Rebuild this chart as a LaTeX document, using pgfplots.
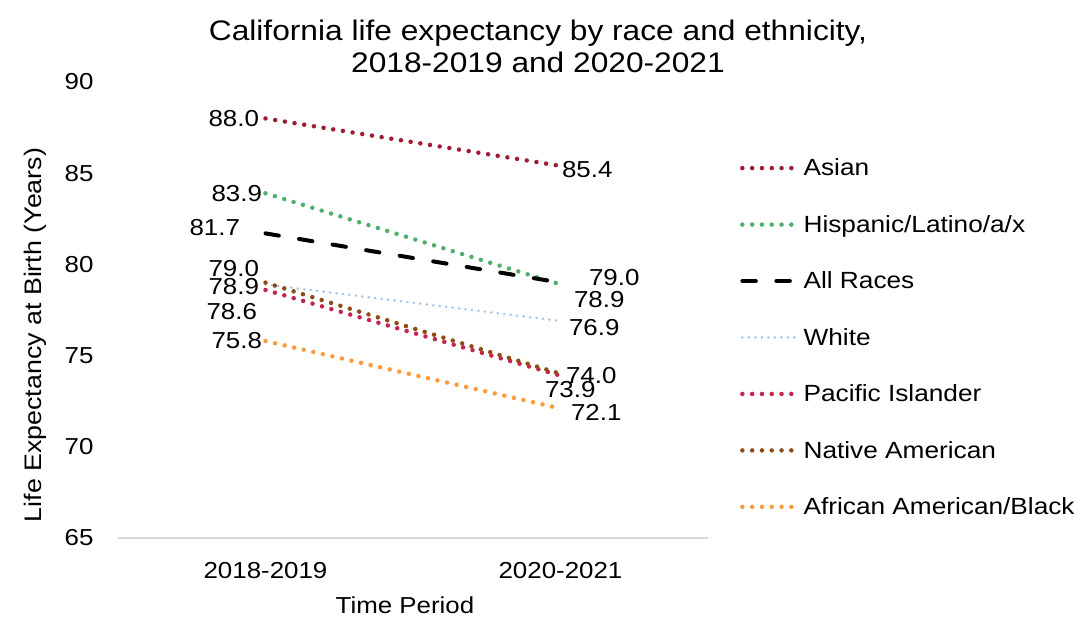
\documentclass[border=0pt]{standalone}
\usepackage{fontspec}
\setmainfont[FakeStretch=1.12]{Liberation Sans}
\usepackage{pgfplots}
\pgfplotsset{compat=1.18}
\definecolor{cAsian}{HTML}{9E1B32}
\definecolor{cHisp}{HTML}{4FAF6C}
\definecolor{cWhite}{HTML}{9DC6F2}
\definecolor{cPac}{HTML}{C4254E}
\definecolor{cNat}{HTML}{8F4B14}
\definecolor{cAfr}{HTML}{FF9A3C}
\newcommand{\lab}{\fontsize{23.2}{27}\selectfont}
\pgfplotstableread{
x asian hisp all white pac nat afr
0 88.0 83.9 81.7 78.9 78.6 79.0 75.8
1 85.4 78.9 79.0 76.9 73.9 74.0 72.1
}\data
\begin{document}
\begin{tikzpicture}
\useasboundingbox (0,0) rectangle (1081bp,618bp);
\begin{axis}[
  at={(118bp,80bp)}, anchor=south west,
  scale only axis, width=590bp, height=456bp,
  xmin=-0.5, xmax=1.5, ymin=65, ymax=90,
  xtick={0,1}, xticklabels={2018-2019,2020-2021},
  ytick={65,70,...,90},
  axis x line*=bottom, axis y line*=left,
  y axis line style={draw=none},
  x axis line style={draw=black!15, line width=1.2bp},
  tick style={draw=none},
  /pgf/number format/assume math mode=true,
  ticklabel style={font=\fontsize{23.2}{27}\selectfont},
  yticklabel style={xshift=-21bp},
  xticklabel style={yshift=-21bp},
  clip=false,
  legend cell align=left,
  legend style={draw=none, fill=none, at={(1.049,0.845)}, anchor=north west,
    font=\fontsize{23.5}{28}\selectfont, row sep=30bp,
    nodes={inner sep=4bp}},
  legend image code/.code={\draw[#1] (0bp,0bp) -- (55bp,0bp);},
  dotst/.style={line width=4.5bp, line cap=round, dash pattern=on 0bp off 9.8bp},
]
\addplot[cAsian, dotst] table[x=x,y=asian]{\data};
\addlegendentry{Asian}
\addplot[cHisp, dotst] table[x=x,y=hisp]{\data};
\addlegendentry{Hispanic/Latino/a/x}
\addplot[black, line width=4bp, line cap=round, dash pattern=on 13.5bp off 20.5bp] table[x=x,y=all]{\data};
\addlegendentry{All Races}
\addplot[cWhite, line width=2.8bp, line cap=round, dash pattern=on 0bp off 6.5bp] table[x=x,y=white]{\data};
\addlegendentry{White}
\addplot[cPac, dotst] table[x=x,y=pac]{\data};
\addlegendentry{Pacific Islander}
\addplot[cNat, dotst] table[x=x,y=nat]{\data};
\addlegendentry{Native American}
\addplot[cAfr, dotst] table[x=x,y=afr]{\data};
\addlegendentry{African American/Black}

\node[anchor=east, font=\lab, xshift=-3bp] at (axis cs:0,88.0) {88.0};
\node[anchor=east, font=\lab] at (axis cs:0,83.9) {83.9};
\node[anchor=east, font=\lab, xshift=-22bp, yshift=6bp] at (axis cs:0,81.7) {81.7};
\node[anchor=east, font=\lab, xshift=-3bp, yshift=14bp] at (axis cs:0,79.0) {79.0};
\node[anchor=east, font=\lab, xshift=-3bp, yshift=-2bp] at (axis cs:0,78.9) {78.9};
\node[anchor=east, font=\lab, xshift=-5bp, yshift=-22bp] at (axis cs:0,78.6) {78.6};
\node[anchor=east, font=\lab] at (axis cs:0,75.8) {75.8};

\node[anchor=west, font=\lab, xshift=-2bp, yshift=-4bp] at (axis cs:1,85.4) {85.4};
\node[anchor=west, font=\lab, xshift=25bp, yshift=5bp] at (axis cs:1,79.0) {79.0};
\node[anchor=west, font=\lab, xshift=10bp, yshift=-15bp] at (axis cs:1,78.9) {78.9};
\node[anchor=west, font=\lab, xshift=5bp, yshift=-7bp] at (axis cs:1,76.9) {76.9};
\node[anchor=west, font=\lab, xshift=2bp, yshift=-2bp] at (axis cs:1,74.0) {74.0};
\node[anchor=west, font=\lab, xshift=-19bp, yshift=-14bp] at (axis cs:1,73.9) {73.9};
\node[anchor=west, font=\lab, xshift=7bp, yshift=-4bp] at (axis cs:1,72.1) {72.1};
\end{axis}
\node[align=center, font=\fontsize{28.4}{32}\selectfont] at (538bp,572bp) {California life expectancy by race and ethnicity,\\2018-2019 and 2020-2021};
\node[rotate=90, font=\fontsize{24}{28}\selectfont] at (35bp,283bp) {Life Expectancy at Birth (Years)};
\node[font=\fontsize{23.2}{27}\selectfont] at (405bp,13bp) {Time Period};
\end{tikzpicture}
\end{document}
